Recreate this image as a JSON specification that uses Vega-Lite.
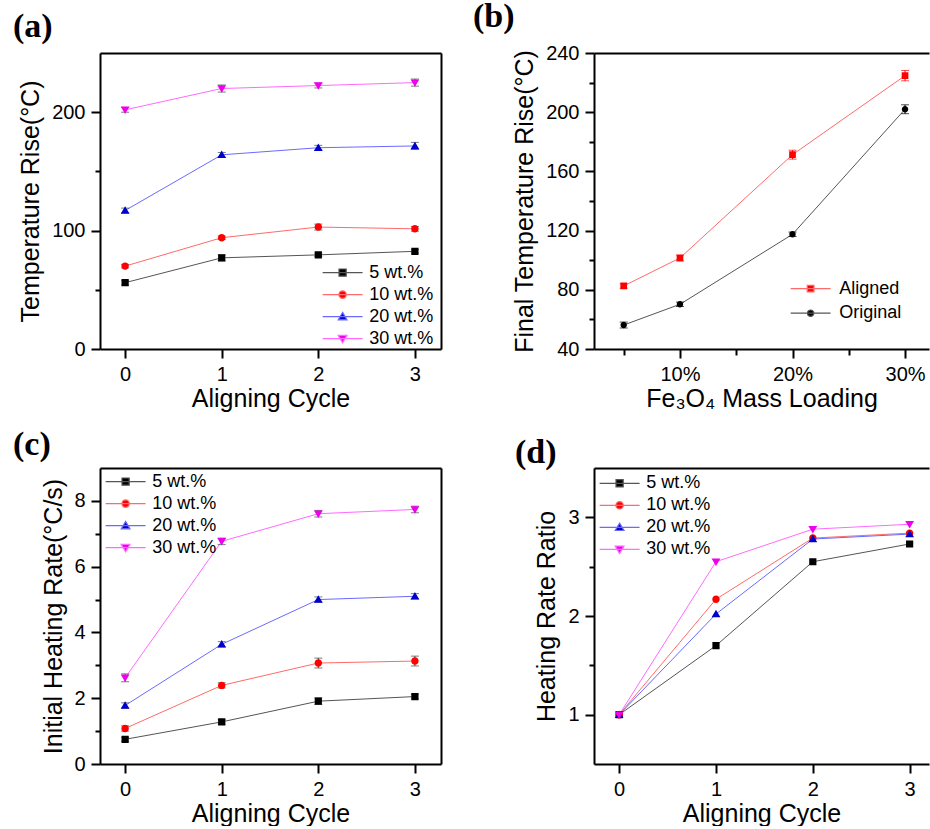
{
"$schema": "https://vega.github.io/schema/vega-lite/v6.json",
"padding": {"left": 13, "top": 0, "right": 0, "bottom": 0},
"bounds": "flush",
"columns": 2,
"spacing": {"row": 119, "column": 153},
"resolve": {"scale": {"fill": "independent", "stroke": "independent", "shape": "independent", "color": "independent"}, "legend": {"fill": "independent", "stroke": "independent", "shape": "independent", "color": "independent"}},
"config": {
  "font": "Liberation Sans",
  "view": {"stroke": null},
  "axis": {"grid": false, "domainColor": "black", "domainWidth": 2, "tickColor": "black", "tickWidth": 2, "tickSize": 9, "labelColor": "black", "labelFontSize": 20, "labelPadding": 6, "labelFont": "Liberation Sans", "labelOverlap": false, "labelFlush": false, "titleColor": "black", "titleFontSize": 25, "titleFontWeight": "normal", "titleFont": "Liberation Sans"},
  "legend": {"labelFontSize": 18, "labelColor": "black", "labelFont": "Liberation Sans", "padding": 0, "symbolStrokeWidth": 1.2, "labelOffset": 13.6},
  "title": {"anchor": "start", "frame": "group", "font": "Liberation Serif", "fontSize": 34, "fontWeight": "bold", "color": "black", "baseline": "alphabetic"}
},
"datasets": {
  "a": [
    {"s": "5 wt.%", "x": 0, "y": 56, "lo": 54, "hi": 58},
    {"s": "5 wt.%", "x": 1, "y": 77, "lo": 74.5, "hi": 79.5},
    {"s": "5 wt.%", "x": 2, "y": 79.5, "lo": 78, "hi": 81},
    {"s": "5 wt.%", "x": 3, "y": 82.5, "lo": 81, "hi": 84},
    {"s": "10 wt.%", "x": 0, "y": 70, "lo": 68.5, "hi": 71.5},
    {"s": "10 wt.%", "x": 1, "y": 94, "lo": 92.5, "hi": 95.5},
    {"s": "10 wt.%", "x": 2, "y": 103, "lo": 100.5, "hi": 105.5},
    {"s": "10 wt.%", "x": 3, "y": 101.5, "lo": 99.5, "hi": 103.5},
    {"s": "20 wt.%", "x": 0, "y": 117, "lo": 115, "hi": 119},
    {"s": "20 wt.%", "x": 1, "y": 164, "lo": 162, "hi": 166},
    {"s": "20 wt.%", "x": 2, "y": 170, "lo": 168, "hi": 172},
    {"s": "20 wt.%", "x": 3, "y": 171.5, "lo": 168.5, "hi": 174.5},
    {"s": "30 wt.%", "x": 0, "y": 202, "lo": 200, "hi": 204},
    {"s": "30 wt.%", "x": 1, "y": 220, "lo": 217, "hi": 223},
    {"s": "30 wt.%", "x": 2, "y": 222.5, "lo": 220.5, "hi": 224.5},
    {"s": "30 wt.%", "x": 3, "y": 225, "lo": 222, "hi": 228}
  ],
  "b": [
    {"s": "Aligned", "x": 5, "y": 82.6, "lo": 81.1, "hi": 84.1},
    {"s": "Aligned", "x": 10, "y": 101.5, "lo": 99.5, "hi": 103.5},
    {"s": "Aligned", "x": 20, "y": 171.3, "lo": 168.3, "hi": 174.3},
    {"s": "Aligned", "x": 30, "y": 224.7, "lo": 221.2, "hi": 228.2},
    {"s": "Original", "x": 5, "y": 56.2, "lo": 54.2, "hi": 58.2},
    {"s": "Original", "x": 10, "y": 70.2, "lo": 68.7, "hi": 71.7},
    {"s": "Original", "x": 20, "y": 117.5, "lo": 116, "hi": 119},
    {"s": "Original", "x": 30, "y": 202, "lo": 199, "hi": 205}
  ],
  "c": [
    {"s": "5 wt.%", "x": 0, "y": 0.75, "lo": 0.69, "hi": 0.81},
    {"s": "5 wt.%", "x": 1, "y": 1.28, "lo": 1.21, "hi": 1.35},
    {"s": "5 wt.%", "x": 2, "y": 1.91, "lo": 1.81, "hi": 2.01},
    {"s": "5 wt.%", "x": 3, "y": 2.05, "lo": 1.98, "hi": 2.12},
    {"s": "10 wt.%", "x": 0, "y": 1.08, "lo": 1.0, "hi": 1.16},
    {"s": "10 wt.%", "x": 1, "y": 2.39, "lo": 2.31, "hi": 2.47},
    {"s": "10 wt.%", "x": 2, "y": 3.07, "lo": 2.92, "hi": 3.22},
    {"s": "10 wt.%", "x": 3, "y": 3.13, "lo": 2.98, "hi": 3.28},
    {"s": "20 wt.%", "x": 0, "y": 1.78, "lo": 1.7, "hi": 1.86},
    {"s": "20 wt.%", "x": 1, "y": 3.64, "lo": 3.56, "hi": 3.72},
    {"s": "20 wt.%", "x": 2, "y": 5.0, "lo": 4.92, "hi": 5.08},
    {"s": "20 wt.%", "x": 3, "y": 5.1, "lo": 5.02, "hi": 5.18},
    {"s": "30 wt.%", "x": 0, "y": 2.62, "lo": 2.5, "hi": 2.74},
    {"s": "30 wt.%", "x": 1, "y": 6.77, "lo": 6.67, "hi": 6.87},
    {"s": "30 wt.%", "x": 2, "y": 7.61, "lo": 7.51, "hi": 7.71},
    {"s": "30 wt.%", "x": 3, "y": 7.74, "lo": 7.64, "hi": 7.84}
  ],
  "d": [
    {"s": "5 wt.%", "x": 0, "y": 1},
    {"s": "5 wt.%", "x": 1, "y": 1.70},
    {"s": "5 wt.%", "x": 2, "y": 2.55},
    {"s": "5 wt.%", "x": 3, "y": 2.73},
    {"s": "10 wt.%", "x": 0, "y": 1},
    {"s": "10 wt.%", "x": 1, "y": 2.17},
    {"s": "10 wt.%", "x": 2, "y": 2.79},
    {"s": "10 wt.%", "x": 3, "y": 2.84},
    {"s": "20 wt.%", "x": 0, "y": 1},
    {"s": "20 wt.%", "x": 1, "y": 2.02},
    {"s": "20 wt.%", "x": 2, "y": 2.78},
    {"s": "20 wt.%", "x": 3, "y": 2.83},
    {"s": "30 wt.%", "x": 0, "y": 1},
    {"s": "30 wt.%", "x": 1, "y": 2.55},
    {"s": "30 wt.%", "x": 2, "y": 2.88},
    {"s": "30 wt.%", "x": 3, "y": 2.93}
  ]
},
"concat": [
  {
    "width": 341, "height": 296,
    "title": {"text": "(a)", "dx": -87, "offset": 9},
    "data": {"name": "a"},
    "resolve": {"axis": {"x": "independent", "y": "independent"}},
    "layer": [
      {"mark": {"type": "line", "strokeWidth": 1},
       "encoding": {
         "x": {"field": "x", "type": "quantitative", "scale": {"domain": [-0.26, 3.27], "nice": false, "zero": false}, "axis": {"orient": "bottom", "values": [0, 1, 2, 3], "format": "d", "title": "Aligning Cycle", "titleY": 57, "titleBaseline": "alphabetic"}},
         "y": {"field": "y", "type": "quantitative", "scale": {"domain": [0, 250], "nice": false}, "axis": {"orient": "left", "values": [0, 100, 200], "format": "d", "title": "Temperature Rise(°C)", "titleX": -62, "titleBaseline": "alphabetic"}},
         "stroke": {"field": "s", "type": "nominal", "scale": {"domain": ["5 wt.%", "10 wt.%", "20 wt.%", "30 wt.%"], "range": ["#555555", "#ff6a6a", "#6a6aff", "#ff6aff"]},
                    "legend": {"orient": "none", "legendX": 229.6, "legendY": 206.6, "title": null, "symbolSize": 615, "rowPadding": 0, "encode": {"symbols": {"update": {"strokeWidth": {"value": 1.2}}}}}}
       }},
      {"mark": {"type": "errorbar", "ticks": {"size": 8}, "color": "#444444", "thickness": 1},
       "encoding": {
         "x": {"field": "x", "type": "quantitative", "scale": {"domain": [-0.26, 3.27], "nice": false, "zero": false}, "axis": {"orient": "top", "ticks": false, "labels": false, "title": null}},
         "y": {"field": "lo", "type": "quantitative", "scale": {"domain": [0, 250], "nice": false}, "axis": {"orient": "right", "ticks": false, "labels": false, "title": null}},
         "y2": {"field": "hi"}
       }},
      {"mark": {"type": "point", "filled": true, "opacity": 1, "size": 615},
       "encoding": {
         "x": {"field": "x", "type": "quantitative", "scale": {"domain": [-0.26, 3.27], "nice": false, "zero": false}, "axis": null},
         "y": {"field": "y", "type": "quantitative", "scale": {"domain": [0, 250], "nice": false}, "axis": {"orient": "left", "values": [50, 150], "labels": false, "domain": false, "tickSize": 5, "title": null}},
         "fill": {"field": "s", "type": "nominal", "scale": {"domain": ["5 wt.%", "10 wt.%", "20 wt.%", "30 wt.%"], "range": ["#000000", "#ff0000", "#0000cc", "#ee00ee"]},
                  "legend": {"orient": "none", "legendX": 229.6, "legendY": 206.6, "title": null, "symbolSize": 615, "rowPadding": 0, "encode": {"symbols": {"update": {"strokeWidth": {"value": 1.2}}}}}},
         "shape": {"field": "s", "type": "nominal", "scale": {"domain": ["5 wt.%", "10 wt.%", "20 wt.%", "30 wt.%"], "range": ["M-1.61,0H1.61M-0.29,-0.29H0.29V0.29H-0.29Z", "M-1.61,0H1.61M0.3,0A0.3,0.3,0,1,1,-0.3,0A0.3,0.3,0,1,1,0.3,0Z", "M-1.61,0H1.61M0,-0.34L0.355,0.26H-0.355Z", "M-1.61,0H1.61M0,0.34L0.355,-0.26H-0.355Z"]},
                  "legend": {"orient": "none", "legendX": 229.6, "legendY": 206.6, "title": null, "symbolSize": 615, "rowPadding": 0, "encode": {"symbols": {"update": {"strokeWidth": {"value": 1.2}}}}}}
       }}
    ]
  },
  {
    "width": 335, "height": 296,
    "title": {"text": "(b)", "dx": -121, "offset": 9},
    "data": {"name": "b"},
    "resolve": {"axis": {"x": "independent", "y": "independent"}},
    "layer": [
      {"mark": {"type": "line", "strokeWidth": 1},
       "encoding": {
         "x": {"field": "x", "type": "quantitative", "scale": {"domain": [2.36, 32.13], "nice": false, "zero": false}, "axis": {"orient": "bottom", "values": [10, 20, 30], "labelExpr": "datum.value + '%'", "title": "Fe₃O₄ Mass Loading", "titleY": 57, "titleBaseline": "alphabetic"}},
         "y": {"field": "y", "type": "quantitative", "scale": {"domain": [40, 240], "nice": false, "zero": false}, "axis": {"orient": "left", "values": [40, 80, 120, 160, 200, 240], "format": "d", "title": "Final Temperature Rise(°C)", "titleX": -62, "titleBaseline": "alphabetic"}},
         "stroke": {"field": "s", "type": "nominal", "scale": {"domain": ["Aligned", "Original"], "range": ["#ff6a6a", "#555555"]},
                    "legend": {"orient": "none", "legendX": 203.6, "legendY": 222.6, "title": null, "symbolSize": 615, "rowPadding": 2.6, "labelOffset": 15.6, "encode": {"symbols": {"update": {"strokeWidth": {"value": 1.2}}}}}}
       }},
      {"mark": {"type": "errorbar", "ticks": {"size": 8}, "thickness": 1},
       "encoding": {
         "x": {"field": "x", "type": "quantitative", "scale": {"domain": [2.36, 32.13], "nice": false, "zero": false}, "axis": {"orient": "top", "ticks": false, "labels": false, "title": null}},
         "y": {"field": "lo", "type": "quantitative", "scale": {"domain": [40, 240], "nice": false, "zero": false}, "axis": null},
         "y2": {"field": "hi"},
         "color": {"field": "s", "type": "nominal", "scale": {"domain": ["Aligned", "Original"], "range": ["#ff0000", "#000000"]}, "legend": null}
       }},
      {"mark": {"type": "point", "filled": true, "opacity": 1, "size": 615},
       "encoding": {
         "x": {"field": "x", "type": "quantitative", "scale": {"domain": [2.36, 32.13], "nice": false, "zero": false}, "axis": {"orient": "bottom", "values": [5, 15, 25], "labels": false, "domain": false, "tickSize": 6, "title": null}},
         "y": {"field": "y", "type": "quantitative", "scale": {"domain": [40, 240], "nice": false, "zero": false}, "axis": {"orient": "left", "values": [60, 100, 140, 180, 220], "labels": false, "domain": false, "tickSize": 5, "title": null}},
         "fill": {"field": "s", "type": "nominal", "scale": {"domain": ["Aligned", "Original"], "range": ["#ff0000", "#000000"]},
                  "legend": {"orient": "none", "legendX": 203.6, "legendY": 222.6, "title": null, "symbolSize": 615, "rowPadding": 2.6, "labelOffset": 15.6, "encode": {"symbols": {"update": {"strokeWidth": {"value": 1.2}}}}}},
         "shape": {"field": "s", "type": "nominal", "scale": {"domain": ["Aligned", "Original"], "range": ["M-1.61,0H1.61M-0.27,-0.27H0.27V0.27H-0.27Z", "M-1.61,0H1.61M0.26,0A0.26,0.26,0,1,1,-0.26,0A0.26,0.26,0,1,1,0.26,0Z"]},
                  "legend": {"orient": "none", "legendX": 203.6, "legendY": 222.6, "title": null, "symbolSize": 615, "rowPadding": 2.6, "labelOffset": 15.6, "encode": {"symbols": {"update": {"strokeWidth": {"value": 1.2}}}}}}
       }}
    ]
  },
  {
    "width": 341, "height": 296,
    "title": {"text": "(c)", "dx": -87, "offset": 6},
    "data": {"name": "c"},
    "resolve": {"axis": {"x": "independent", "y": "independent"}},
    "layer": [
      {"mark": {"type": "line", "strokeWidth": 1},
       "encoding": {
         "x": {"field": "x", "type": "quantitative", "scale": {"domain": [-0.26, 3.27], "nice": false, "zero": false}, "axis": {"orient": "bottom", "values": [0, 1, 2, 3], "format": "d", "title": "Aligning Cycle", "titleY": 57, "titleBaseline": "alphabetic"}},
         "y": {"field": "y", "type": "quantitative", "scale": {"domain": [0, 9], "nice": false}, "axis": {"orient": "left", "values": [0, 2, 4, 6, 8], "format": "d", "title": "Initial Heating Rate(°C/s)", "titleX": -39, "titleBaseline": "alphabetic"}},
         "stroke": {"field": "s", "type": "nominal", "scale": {"domain": ["5 wt.%", "10 wt.%", "20 wt.%", "30 wt.%"], "range": ["#555555", "#ff6a6a", "#6a6aff", "#ff6aff"]},
                    "legend": {"orient": "none", "legendX": 12.6, "legendY": 0.6, "title": null, "symbolSize": 615, "rowPadding": 0, "encode": {"symbols": {"update": {"strokeWidth": {"value": 1.2}}}}}}
       }},
      {"mark": {"type": "errorbar", "ticks": {"size": 8}, "color": "#444444", "thickness": 1},
       "encoding": {
         "x": {"field": "x", "type": "quantitative", "scale": {"domain": [-0.26, 3.27], "nice": false, "zero": false}, "axis": {"orient": "top", "ticks": false, "labels": false, "title": null}},
         "y": {"field": "lo", "type": "quantitative", "scale": {"domain": [0, 9], "nice": false}, "axis": {"orient": "right", "ticks": false, "labels": false, "title": null}},
         "y2": {"field": "hi"}
       }},
      {"mark": {"type": "point", "filled": true, "opacity": 1, "size": 615},
       "encoding": {
         "x": {"field": "x", "type": "quantitative", "scale": {"domain": [-0.26, 3.27], "nice": false, "zero": false}, "axis": null},
         "y": {"field": "y", "type": "quantitative", "scale": {"domain": [0, 9], "nice": false}, "axis": {"orient": "left", "values": [1, 3, 5, 7], "labels": false, "domain": false, "tickSize": 5, "title": null}},
         "fill": {"field": "s", "type": "nominal", "scale": {"domain": ["5 wt.%", "10 wt.%", "20 wt.%", "30 wt.%"], "range": ["#000000", "#ff0000", "#0000cc", "#ee00ee"]},
                  "legend": {"orient": "none", "legendX": 12.6, "legendY": 0.6, "title": null, "symbolSize": 615, "rowPadding": 0, "encode": {"symbols": {"update": {"strokeWidth": {"value": 1.2}}}}}},
         "shape": {"field": "s", "type": "nominal", "scale": {"domain": ["5 wt.%", "10 wt.%", "20 wt.%", "30 wt.%"], "range": ["M-1.61,0H1.61M-0.29,-0.29H0.29V0.29H-0.29Z", "M-1.61,0H1.61M0.3,0A0.3,0.3,0,1,1,-0.3,0A0.3,0.3,0,1,1,0.3,0Z", "M-1.61,0H1.61M0,-0.34L0.355,0.26H-0.355Z", "M-1.61,0H1.61M0,0.34L0.355,-0.26H-0.355Z"]},
                  "legend": {"orient": "none", "legendX": 12.6, "legendY": 0.6, "title": null, "symbolSize": 615, "rowPadding": 0, "encode": {"symbols": {"update": {"strokeWidth": {"value": 1.2}}}}}}
       }}
    ]
  },
  {
    "width": 335, "height": 296,
    "title": {"text": "(d)", "dx": -79, "offset": -2},
    "data": {"name": "d"},
    "resolve": {"axis": {"x": "independent", "y": "independent"}},
    "layer": [
      {"mark": {"type": "line", "strokeWidth": 1},
       "encoding": {
         "x": {"field": "x", "type": "quantitative", "scale": {"domain": [-0.26, 3.2], "nice": false, "zero": false}, "axis": {"orient": "bottom", "values": [0, 1, 2, 3], "format": "d", "title": "Aligning Cycle", "titleY": 57, "titleBaseline": "alphabetic"}},
         "y": {"field": "y", "type": "quantitative", "scale": {"domain": [0.5, 3.5], "nice": false, "zero": false}, "axis": {"orient": "left", "values": [1, 2, 3], "format": "d", "title": "Heating Rate Ratio", "titleX": -40, "titleBaseline": "alphabetic"}},
         "stroke": {"field": "s", "type": "nominal", "scale": {"domain": ["5 wt.%", "10 wt.%", "20 wt.%", "30 wt.%"], "range": ["#555555", "#ff6a6a", "#6a6aff", "#ff6aff"]},
                    "legend": {"orient": "none", "legendX": 12.6, "legendY": 2.3, "title": null, "symbolSize": 615, "rowPadding": 0, "encode": {"symbols": {"update": {"strokeWidth": {"value": 1.2}}}}}}
       }},
      {"mark": {"type": "point", "filled": true, "opacity": 1, "size": 615},
       "encoding": {
         "x": {"field": "x", "type": "quantitative", "scale": {"domain": [-0.26, 3.2], "nice": false, "zero": false}, "axis": {"orient": "top", "ticks": false, "labels": false, "title": null}},
         "y": {"field": "y", "type": "quantitative", "scale": {"domain": [0.5, 3.5], "nice": false, "zero": false}, "axis": {"orient": "left", "values": [1.5, 2.5], "labels": false, "domain": false, "tickSize": 5, "title": null}},
         "fill": {"field": "s", "type": "nominal", "scale": {"domain": ["5 wt.%", "10 wt.%", "20 wt.%", "30 wt.%"], "range": ["#000000", "#ff0000", "#0000cc", "#ee00ee"]},
                  "legend": {"orient": "none", "legendX": 12.6, "legendY": 2.3, "title": null, "symbolSize": 615, "rowPadding": 0, "encode": {"symbols": {"update": {"strokeWidth": {"value": 1.2}}}}}},
         "shape": {"field": "s", "type": "nominal", "scale": {"domain": ["5 wt.%", "10 wt.%", "20 wt.%", "30 wt.%"], "range": ["M-1.61,0H1.61M-0.29,-0.29H0.29V0.29H-0.29Z", "M-1.61,0H1.61M0.3,0A0.3,0.3,0,1,1,-0.3,0A0.3,0.3,0,1,1,0.3,0Z", "M-1.61,0H1.61M0,-0.34L0.355,0.26H-0.355Z", "M-1.61,0H1.61M0,0.34L0.355,-0.26H-0.355Z"]},
                  "legend": {"orient": "none", "legendX": 12.6, "legendY": 2.3, "title": null, "symbolSize": 615, "rowPadding": 0, "encode": {"symbols": {"update": {"strokeWidth": {"value": 1.2}}}}}}
       }}
    ]
  }
]
}
